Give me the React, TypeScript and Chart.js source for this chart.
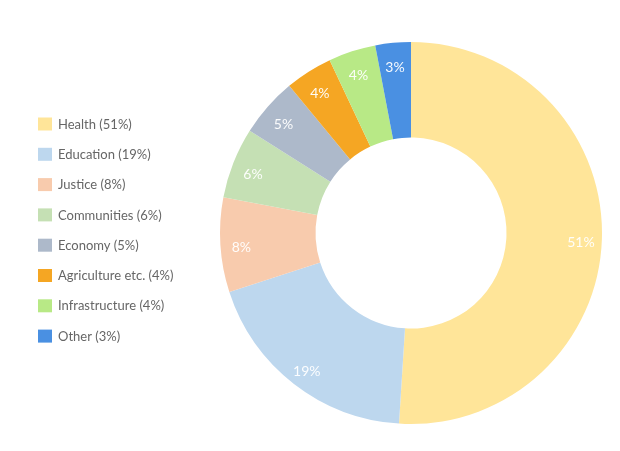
import { useEffect, useRef } from 'react';
import Chart from 'chart.js/auto';

const categories = [
  'Health',
  'Education',
  'Justice',
  'Communities',
  'Economy',
  'Agriculture etc.',
  'Infrastructure',
  'Other',
];
const shares = [51, 19, 8, 6, 5, 4, 4, 3];
const colors = [
  '#FFE599',
  '#BDD7EE',
  '#F8CBAD',
  '#C5E0B4',
  '#ADB9CA',
  '#F5A623',
  '#B8E986',
  '#4A90E2',
];

const FONT = 'Lato, "Open Sans", sans-serif';

// white percentage labels inside each slice
const sliceLabels = {
  id: 'sliceLabels',
  afterDatasetsDraw(chart: Chart) {
    const { ctx } = chart;
    const meta = chart.getDatasetMeta(0);
    ctx.save();
    ctx.font = `14px ${FONT}`;
    ctx.fillStyle = 'rgba(255,255,255,0.95)';
    ctx.textAlign = 'center';
    ctx.textBaseline = 'middle';
    meta.data.forEach((arc: any, i: number) => {
      const { x, y, startAngle, endAngle, outerRadius } = arc.getProps(
        ['x', 'y', 'startAngle', 'endAngle', 'outerRadius'],
        true
      );
      const mid = (startAngle + endAngle) / 2;
      const r = outerRadius * 0.89;
      ctx.fillText(`${shares[i]}%`, x + Math.cos(mid) * r, y + Math.sin(mid) * r + 4);
    });
    ctx.restore();
  },
};

// legend down the left side
const sideLegend = {
  id: 'sideLegend',
  afterDraw(chart: Chart) {
    const { ctx } = chart;
    ctx.save();
    ctx.font = `13px ${FONT}`;
    ctx.textBaseline = 'middle';
    ctx.textAlign = 'left';
    categories.forEach((name, i) => {
      const cy = 124 + i * 30.3;
      ctx.fillStyle = colors[i];
      ctx.fillRect(38, cy - 6.5, 14, 13);
      ctx.fillStyle = '#666666';
      ctx.fillText(`${name} (${shares[i]}%)`, 58, cy + 0.5);
    });
    ctx.restore();
  },
};

export default function App() {
  const chartRef = useRef<HTMLCanvasElement>(null);
  const chartInstance = useRef<Chart | null>(null);

  useEffect(() => {
    if (!chartRef.current) return;

    if (chartInstance.current) {
      chartInstance.current.destroy();
    }

    chartInstance.current = new Chart(chartRef.current, {
      type: 'doughnut',
      data: {
        labels: categories,
        datasets: [
          {
            data: shares,
            backgroundColor: colors,
            borderWidth: 0,
          },
        ],
      },
      options: {
        animation: false,
        responsive: true,
        maintainAspectRatio: false,
        cutout: '50%',
        layout: {
          padding: { left: 220, right: 18, top: 42, bottom: 27 },
        },
        plugins: {
          legend: { display: false },
          tooltip: { enabled: false },
        },
      },
      plugins: [sliceLabels, sideLegend],
    });

    return () => {
      if (chartInstance.current) {
        chartInstance.current.destroy();
        chartInstance.current = null;
      }
    };
  }, []);

  return (
    <div style={{ position: 'absolute', left: 0, top: 0, width: 620, height: 451, background: '#fff' }}>
      <canvas ref={chartRef} />
    </div>
  );
}
